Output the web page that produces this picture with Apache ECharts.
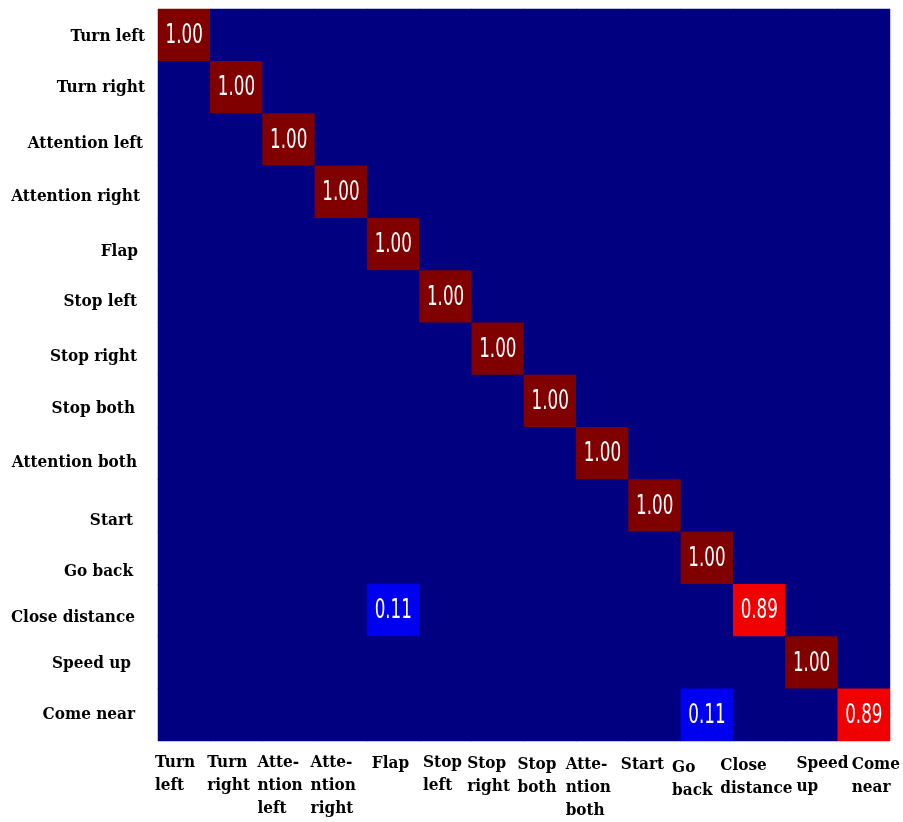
<!DOCTYPE html>
<html>
<head>
<meta charset="utf-8">
<script src="https://cdn.jsdelivr.net/npm/echarts@6/dist/echarts.min.js"></script>
<style>
  html, body { margin: 0; padding: 0; background: #ffffff; }
  #chart { width: 903px; height: 822px; }
</style>
</head>
<body>
<div id="chart"></div>
<script>
// Class names, top to bottom on the y axis (true class)
const rowLabels = ['Turn left', 'Turn right', 'Attention left', 'Attention right', 'Flap',
  'Stop left', 'Stop right', 'Stop both', 'Attention both', 'Start', 'Go back',
  'Close distance', 'Speed up', 'Come near'];

// Same classes along the x axis (predicted class), wrapped for the narrow columns
const colLabels = ['Turn\nleft', 'Turn\nright', 'Atte-\nntion\nleft', 'Atte-\nntion\nright', 'Flap',
  'Stop\nleft', 'Stop\nright', 'Stop\nboth', 'Atte-\nntion\nboth', 'Start', 'Go\nback',
  'Close\ndistance', 'Speed\nup', 'Come\nnear'];

// Confusion matrix, one row per true class
const matrix = [
  [1.00, 0, 0, 0, 0, 0, 0, 0, 0, 0, 0, 0, 0, 0],
  [0, 1.00, 0, 0, 0, 0, 0, 0, 0, 0, 0, 0, 0, 0],
  [0, 0, 1.00, 0, 0, 0, 0, 0, 0, 0, 0, 0, 0, 0],
  [0, 0, 0, 1.00, 0, 0, 0, 0, 0, 0, 0, 0, 0, 0],
  [0, 0, 0, 0, 1.00, 0, 0, 0, 0, 0, 0, 0, 0, 0],
  [0, 0, 0, 0, 0, 1.00, 0, 0, 0, 0, 0, 0, 0, 0],
  [0, 0, 0, 0, 0, 0, 1.00, 0, 0, 0, 0, 0, 0, 0],
  [0, 0, 0, 0, 0, 0, 0, 1.00, 0, 0, 0, 0, 0, 0],
  [0, 0, 0, 0, 0, 0, 0, 0, 1.00, 0, 0, 0, 0, 0],
  [0, 0, 0, 0, 0, 0, 0, 0, 0, 1.00, 0, 0, 0, 0],
  [0, 0, 0, 0, 0, 0, 0, 0, 0, 0, 1.00, 0, 0, 0],
  [0, 0, 0, 0, 0.11, 0, 0, 0, 0, 0, 0, 0.89, 0, 0],
  [0, 0, 0, 0, 0, 0, 0, 0, 0, 0, 0, 0, 1.00, 0],
  [0, 0, 0, 0, 0, 0, 0, 0, 0, 0, 0.11, 0, 0, 0.89]
];

// Jet colour map, evenly spaced stops from 0 to 1
const jet = ['#000080', '#0000ff', '#0080ff', '#00ffff', '#80ff80',
  '#ffff00', '#ff8000', '#ff0000', '#800000'];

// Hand-set label nudges in px: row labels [left, down], column labels [right, down]
const rowLabelNudge = [[0, 1], [0, 0], [2, 4], [5, 5], [7, 7], [8, 5], [8, 8],
  [10, 7], [8, 9], [12, 15], [12, 14], [10, 7], [14, 1], [10, 0]];
const colLabelNudge = [[9, 0], [9, 0], [7, 0], [8, 0], [17, 1], [16, 0], [8, 1],
  [6, 2], [2, 2], [5, 2], [4, 5], [0, 3], [24, 1], [27, 2]];

const cells = [];
matrix.forEach((row, r) => {
  row.forEach((v, c) => { cells.push([c, r, v]); });
});
const nonZero = cells.filter(d => d[2] > 0);

const labelFont = '"DejaVu Serif Condensed", "DejaVu Serif", serif';
const labelSize = 17;
const rowLine = 18;

const baseText = {
  color: '#000000',
  fontFamily: labelFont,
  fontWeight: 'bold',
  fontSize: labelSize
};

const yAxisData = rowLabels.map((name, i) => ({
  value: name,
  textStyle: Object.assign({}, baseText, {
    align: 'right',
    verticalAlign: 'top',
    lineHeight: rowLine,
    padding: [rowLabelNudge[i][1] - rowLine / 2, rowLabelNudge[i][0], 0, 0]
  })
}));
const xLabelData = colLabels.map((name, i) => ({
  value: name,
  textStyle: Object.assign({}, baseText, {
    align: 'left',
    verticalAlign: 'top',
    lineHeight: 23,
    padding: [colLabelNudge[i][1], 0, 0, colLabelNudge[i][0]]
  })
})).concat([{ value: '' }]);

const chart = echarts.init(document.getElementById('chart'), null, { renderer: 'canvas' });

chart.setOption({
  animation: false,
  backgroundColor: '#ffffff',
  grid: [
    { left: 158, top: 9, right: 13, bottom: 81, show: true, backgroundColor: '#000080', borderWidth: 0 },
    // label-only grid, offset 12px left so column names can sit just left of a cell edge
    { left: 146, top: 9, right: 25, bottom: 81, show: false }
  ],
  xAxis: [
    {
      type: 'category',
      gridIndex: 0,
      data: rowLabels,
      position: 'bottom',
      axisLine: { show: false },
      axisTick: { show: false },
      axisLabel: { show: false },
      splitLine: { show: false }
    },
    {
      type: 'category',
      gridIndex: 1,
      data: xLabelData,
      boundaryGap: false,
      position: 'bottom',
      axisLine: { show: false },
      axisTick: { show: false },
      splitLine: { show: false },
      axisLabel: Object.assign({}, baseText, {
        interval: 0,
        align: 'left',
        verticalAlign: 'top',
        margin: 12,
        lineHeight: 23
      })
    }
  ],
  yAxis: [
    {
      type: 'category',
      gridIndex: 0,
      data: yAxisData,
      inverse: true,
      axisLine: { show: false },
      axisTick: { show: false },
      splitLine: { show: false },
      axisLabel: Object.assign({}, baseText, {
        interval: 0,
        margin: 13,
        align: 'right',
        verticalAlign: 'top'
      })
    },
    { type: 'value', gridIndex: 1, show: false }
  ],
  visualMap: {
    show: false,
    type: 'continuous',
    min: 0,
    max: 1,
    dimension: 2,
    seriesIndex: 0,
    inRange: { color: jet }
  },
  series: [
    {
      type: 'heatmap',
      xAxisIndex: 0,
      yAxisIndex: 0,
      data: cells,
      itemStyle: { borderWidth: 0 },
      label: { show: false },
      emphasis: { disabled: true }
    },
    {
      // cell values in a narrow display style
      type: 'custom',
      xAxisIndex: 0,
      yAxisIndex: 0,
      data: nonZero,
      z: 5,
      silent: true,
      renderItem: (params, api) => {
        const pt = api.coord([api.value(0), api.value(1)]);
        return {
          type: 'text',
          x: pt[0],
          y: pt[1] + 1,
          scaleX: 0.62,
          style: {
            x: 0,
            y: 0,
            text: api.value(2).toFixed(2),
            fill: '#ffffff',
            font: '27px "DejaVu Sans", sans-serif',
            align: 'center',
            verticalAlign: 'middle'
          }
        };
      }
    }
  ]
});
</script>
</body>
</html>
